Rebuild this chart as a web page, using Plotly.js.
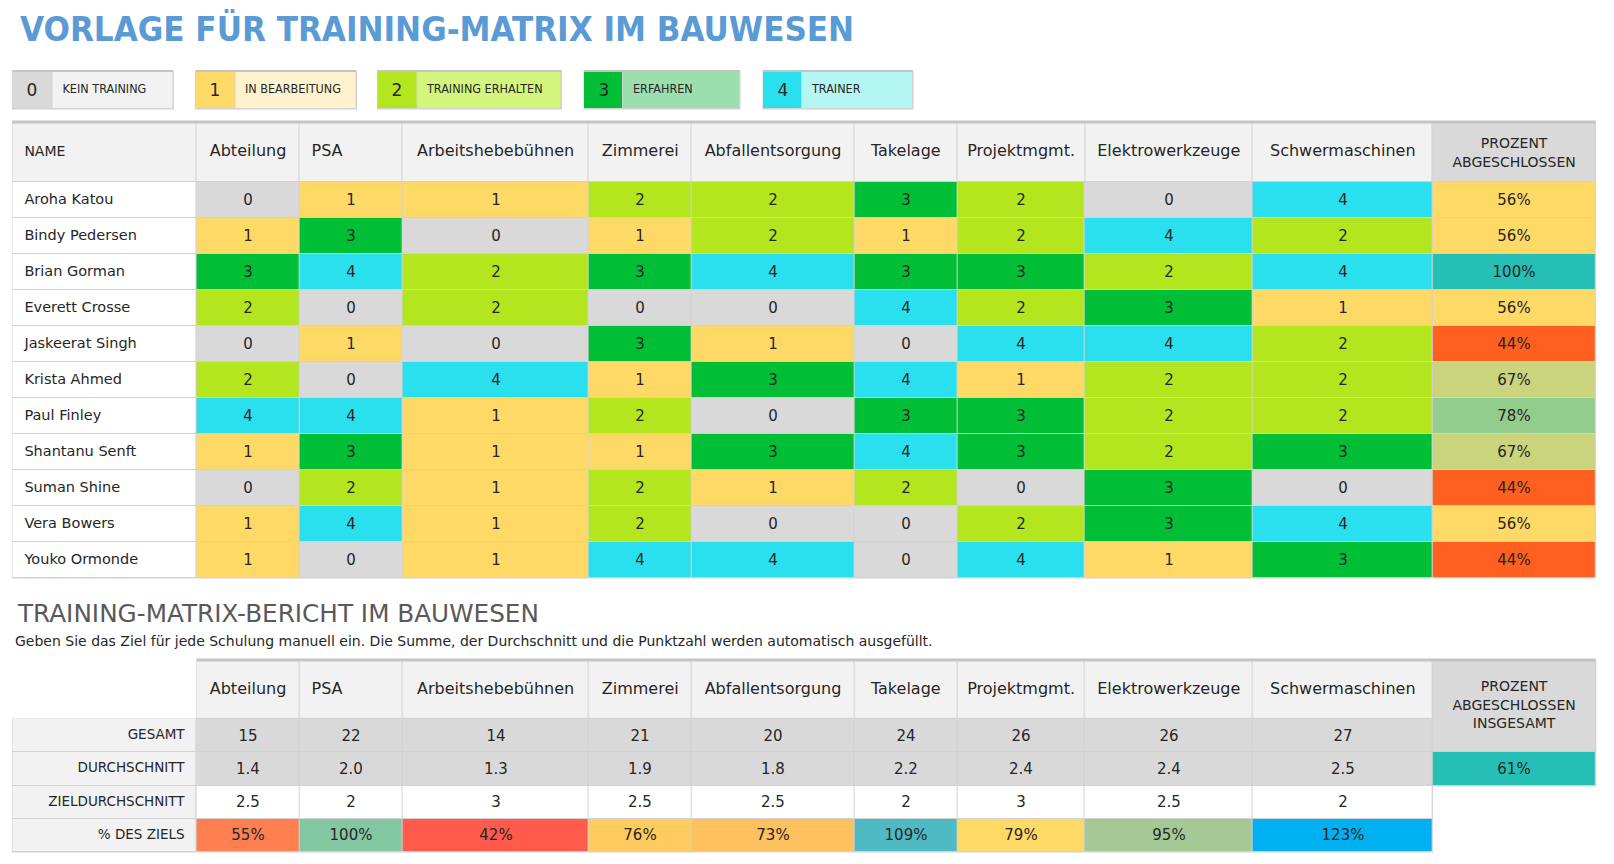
<!DOCTYPE html>
<html><head><meta charset="utf-8">
<script src="https://cdn.plot.ly/plotly-3.0.1.min.js"></script>
<style>html,body{margin:0;padding:0;background:#fff;}#chart{width:1614px;height:864px;}</style>
</head><body><div id="chart"></div>
<script>
// ---------- DATA ----------
const levelCodes = ["0","1","2","3","4"];
const levelNames = ["KEIN TRAINING","IN BEARBEITUNG","TRAINING ERHALTEN","ERFAHREN","TRAINER"];
const skills = ["Abteilung","PSA","Arbeitshebebühnen","Zimmerei","Abfallentsorgung","Takelage","Projektmgmt.","Elektrowerkzeuge","Schwermaschinen"];
const names = ["Aroha Katou","Bindy Pedersen","Brian Gorman","Everett Crosse","Jaskeerat Singh","Krista Ahmed","Paul Finley","Shantanu Senft","Suman Shine","Vera Bowers","Youko Ormonde"];
const scoreRows = [
  [0,1,1,2,2,3,2,0,4],
  [1,3,0,1,2,1,2,4,2],
  [3,4,2,3,4,3,3,2,4],
  [2,0,2,0,0,4,2,3,1],
  [0,1,0,3,1,0,4,4,2],
  [2,0,4,1,3,4,1,2,2],
  [4,4,1,2,0,3,3,2,2],
  [1,3,1,1,3,4,3,2,3],
  [0,2,1,2,1,2,0,3,0],
  [1,4,1,2,0,0,2,3,4],
  [1,0,1,4,4,0,4,1,3]
];
const percentComplete = [56,56,100,56,44,67,78,67,44,56,44];
const nameHeader = "NAME";
const percentHeader = "PROZENT<br>ABGESCHLOSSEN";
const overallHeader = "PROZENT<br>ABGESCHLOSSEN<br>INSGESAMT";
const reportLabels = ["GESAMT","DURCHSCHNITT","ZIELDURCHSCHNITT","% DES ZIELS"];
const totals = [15,22,14,21,20,24,26,26,27];
const averages = ["1.4","2.0","1.3","1.9","1.8","2.2","2.4","2.4","2.5"];
const targetAverages = ["2.5","2","3","2.5","2.5","2","3","2.5","2"];
const pctOfTarget = [55,100,42,76,73,109,79,95,123];
const overallPct = 61;
const titleText = "VORLAGE FÜR TRAINING-MATRIX IM BAUWESEN";
const subtitleText = "TRAINING-MATRIX-BERICHT IM BAUWESEN";
const noteText = "Geben Sie das Ziel für jede Schulung manuell ein. Die Summe, der Durchschnitt und die Punktzahl werden automatisch ausgefüllt.";

// ---------- STYLE / LAYOUT ----------
const W = 1614, H = 864;
const levelColors = ["#D9D9D9","#FFD966","#B3E61F","#00BE35","#2ADFEE"];
const levelLight  = ["#F2F2F2","#FFF2CC","#D4F57C","#9BDFAF","#B3F6F4"];
const pctFill  = {44:"#FF5F1F",56:"#FFD966",67:"#C9D47C",78:"#93CD8D",100:"#26BFB5"};
const goalFill = {55:"#FF7F50",100:"#84C7A3",42:"#FF5A4B",76:"#FFCB5E",73:"#FFC05E",109:"#4FB9C4",79:"#FFD966",95:"#A4C996",123:"#00B0F0"};
const overallFill = "#26BFB5";
const headLight = "#F2F2F2", headDark = "#D9D9D9", white = "#FFFFFF";
const txt = "#262626";
const gridCol = "#D2D2D2";
const bodyFont = "DejaVu Sans, Lato, sans-serif";
const narrowFont = "Liberation Sans Narrow, DejaVu Sans Condensed, Roboto, sans-serif";
const colEdges = [12.4,196.6,299.5,402.5,588.8,691.7,854.3,957.3,1084.9,1252.7,1432.8,1595.4];
const legendBoxes = [[12.4,52.5,173],[195.5,235,356],[377.5,417,561],[584,623,740],[763,802,913]];
const legendY = [71,109];
const mainTop = 122, mainHeadBot = 182, rowH = 36;
const repTop = 660, repHeadBot = 719, repRowH = 33.25;
const padX = 12;

const range = (n)=>Array.from({length:n},(_,i)=>i);
const mainRowEdges = [mainHeadBot].concat(names.map((_,i)=>mainHeadBot+rowH*(i+1)));
const repRowEdges = [repHeadBot].concat(reportLabels.map((_,i)=>repHeadBot+repRowH*(i+1)));
const mid = (e,i)=> (e[i]+e[i+1])/2;

function discrete(colors){
  const n = colors.length, cs = [];
  colors.forEach((c,i)=>{ cs.push([i/n, c]); cs.push([(i+1)/n, c]); });
  return cs;
}
function cells(xEdges, yEdges, zRows, colors, textRows, fontSize){
  const t = {type:"heatmap", x:xEdges, y:yEdges, z:zRows, zmin:-0.5, zmax:colors.length-0.5,
    colorscale:discrete(colors), showscale:false, xgap:1, ygap:1, hoverinfo:"skip"};
  if (textRows){ t.text = textRows; t.texttemplate = "%{text}"; t.textfont = {family:bodyFont, size:fontSize||15, color:txt}; }
  return t;
}
function frame(x0,x1,y0,y1){
  return {type:"heatmap", x:[x0-0.5,x1+0.5], y:[y0-0.5,y1+0.5], z:[[0]], zmin:-0.5, zmax:0.5,
    colorscale:discrete([gridCol]), showscale:false, hoverinfo:"skip"};
}
function label(xs, ys, texts, pos, size, family, color){
  return {type:"scatter", mode:"text", x:xs, y:ys, text:texts, textposition:pos, hoverinfo:"skip",
    cliponaxis:false, textfont:{family:family||bodyFont, size:size, color:color||txt}};
}

const traces = [];

// ---- legend ----
legendBoxes.forEach((b,i)=>{
  traces.push(frame(b[0], b[2], legendY[0], legendY[1]));
  traces.push(cells([b[0],b[1],b[2]], legendY, [[0,1]], [levelColors[i], levelLight[i]], [[levelCodes[i], ""]], 17));
});
traces.push(label(legendBoxes.map(b=>b[1]+10), legendBoxes.map(()=> (legendY[0]+legendY[1])/2), levelNames, "middle right", 12.5, narrowFont));

// ---- main matrix ----
traces.push(frame(colEdges[0], colEdges[11], mainTop, mainRowEdges[mainRowEdges.length-1]));
traces.push(cells(colEdges, [mainTop, mainHeadBot], [range(11).map(i=> i===10 ? 1 : 0)], [headLight, headDark]));
traces.push(cells([colEdges[0], colEdges[1]], mainRowEdges, names.map(()=>[0]), [white]));
traces.push(cells(colEdges.slice(1,11), mainRowEdges, scoreRows, levelColors, scoreRows.map(r=>r.map(String)), 15));
const pctPalette = Object.keys(pctFill).map(k=>pctFill[k]);
const pctKeys = Object.keys(pctFill).map(Number);
traces.push(cells([colEdges[10], colEdges[11]], mainRowEdges, percentComplete.map(p=>[pctKeys.indexOf(p)]), pctPalette,
  percentComplete.map(p=>[p+"%"]), 15));
const mainHeads = [nameHeader].concat(skills, [percentHeader]);
const leftAligned = (s)=> s===nameHeader || s==="PSA";
traces.push(label(
  mainHeads.map((s,i)=> leftAligned(s) ? colEdges[i]+padX : mid(colEdges,i)),
  mainHeads.map((s,i)=> (mainTop+mainHeadBot)/2 + (i===mainHeads.length-1 ? 2 : 0)),
  mainHeads,
  mainHeads.map(s=> leftAligned(s) ? "middle right" : "middle center"),
  mainHeads.map((s,i)=> (i===0 || i===mainHeads.length-1) ? 14 : 16)
));
traces.push(label(names.map(()=>colEdges[0]+padX), names.map((_,i)=>mid(mainRowEdges,i)), names, "middle right", 14.5));

// ---- report ----
traces.push(frame(colEdges[1], colEdges[10], repTop, repHeadBot));
traces.push(frame(colEdges[0], colEdges[10], repHeadBot, repRowEdges[repRowEdges.length-1]));
traces.push(frame(colEdges[10], colEdges[11], repTop, repRowEdges[2]));
traces.push(cells(colEdges.slice(1,11), [repTop, repHeadBot], [skills.map(()=>0)], [headLight]));
traces.push(cells([colEdges[0], colEdges[1]], repRowEdges, reportLabels.map(()=>[0]), [headLight]));
const goalKeys = Object.keys(goalFill).map(Number);
const repPalette = [headDark, white].concat(goalKeys.map(k=>goalFill[k]));
traces.push(cells(colEdges.slice(1,11), repRowEdges,
  [skills.map(()=>0), skills.map(()=>0), skills.map(()=>1), pctOfTarget.map(p=>2+goalKeys.indexOf(p))],
  repPalette,
  [totals.map(String), averages, targetAverages, pctOfTarget.map(p=>p+"%")], 15));
traces.push(cells([colEdges[10], colEdges[11]], [repTop, repRowEdges[1], repRowEdges[2]], [[0],[1]], [headDark, overallFill],
  [[""],[overallPct+"%"]], 15));
const repHeads = skills.concat([overallHeader]);
traces.push(label(
  repHeads.map((s,i)=> s==="PSA" ? colEdges[i+1]+padX : mid(colEdges,i+1)),
  repHeads.map((s,i)=> i===repHeads.length-1 ? (repTop+repRowEdges[1])/2 : (repTop+repHeadBot)/2),
  repHeads,
  repHeads.map(s=> s==="PSA" ? "middle right" : "middle center"),
  repHeads.map((s,i)=> i===repHeads.length-1 ? 14 : 16)
));
traces.push(label(reportLabels.map(()=>colEdges[1]-padX), reportLabels.map((_,i)=>mid(repRowEdges,i)), reportLabels, "middle left", 13.5));

const shapes = [
  {type:"line", xref:"x", yref:"y", x0:colEdges[0], x1:colEdges[11], y0:mainTop, y1:mainTop, line:{color:"#C4C4C4", width:3}},
  {type:"line", xref:"x", yref:"y", x0:colEdges[1], x1:colEdges[11], y0:repTop, y1:repTop, line:{color:"#C4C4C4", width:3}}
];
legendBoxes.forEach(b=>{
  shapes.push({type:"line", xref:"x", yref:"y", x0:b[0], x1:b[2], y0:legendY[0], y1:legendY[0], line:{color:"#C4C4C4", width:2}});
});

const annotations = [
  {text:titleText, xref:"x", yref:"y", x:18, y:29, xanchor:"left", yanchor:"middle", showarrow:false,
   font:{family:narrowFont, size:34.6, color:"#5B9BD5", weight:700}},
  {text:subtitleText, xref:"x", yref:"y", x:15, y:613, xanchor:"left", yanchor:"middle", showarrow:false,
   font:{family:bodyFont, size:24.7, color:"#595959"}},
  {text:noteText, xref:"x", yref:"y", x:13, y:641, xanchor:"left", yanchor:"middle", showarrow:false,
   font:{family:bodyFont, size:14, color:txt}}
];

Plotly.newPlot("chart", traces, {
  width:W, height:H, margin:{l:0,r:0,t:0,b:0,pad:0},
  paper_bgcolor:"#FFFFFF", plot_bgcolor:"#FFFFFF",
  xaxis:{range:[0,W], visible:false, fixedrange:true},
  yaxis:{range:[H,0], visible:false, fixedrange:true},
  shapes: shapes, annotations: annotations, showlegend:false
}, {displayModeBar:false, staticPlot:true});
</script></body></html>
